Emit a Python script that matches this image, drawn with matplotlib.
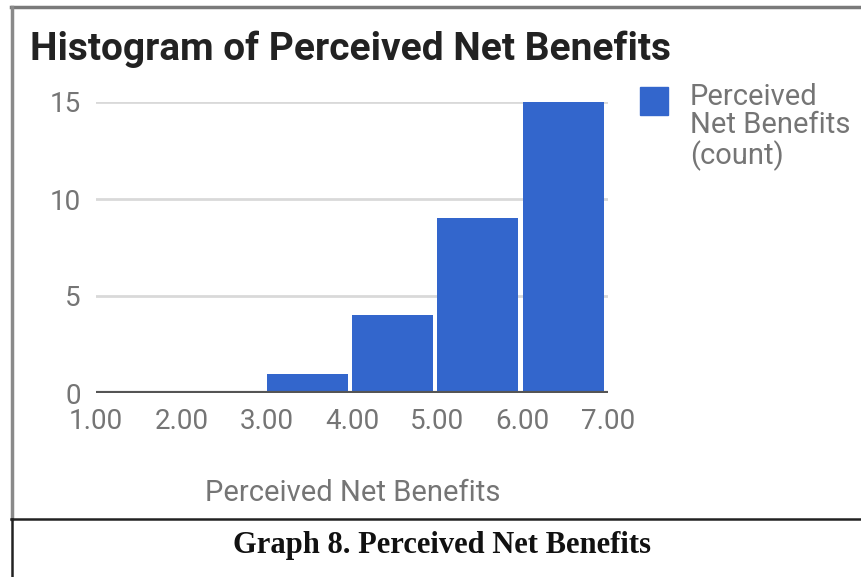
import matplotlib
matplotlib.use("Agg")
import matplotlib.pyplot as plt
from matplotlib.lines import Line2D

# Histogram bins of perceived net benefit scores and their counts
bin_edges = [1.0, 2.0, 3.0, 4.0, 5.0, 6.0, 7.0]
counts = [0, 0, 1, 4, 9, 15]
x_tick_labels = ["1.00", "2.00", "3.00", "4.00", "5.00", "6.00", "7.00"]
y_ticks = [0, 5, 10, 15]

title = "Histogram of Perceived Net Benefits"
x_label = "Perceived Net Benefits"
legend_label = "Perceived\nNet Benefits\n(count)"
caption = "Graph 8. Perceived Net Benefits"

BAR_COLOR = "#3366CC"
TEXT_GRAY = "#757575"

W, H = 861, 577
fig = plt.figure(figsize=(W / 100, H / 100), dpi=100)
fig.patch.set_facecolor("white")


def fx(px):
    return px / W


def fy(py):
    return 1 - py / H


# Plot area
ax = fig.add_axes([fx(96), fy(393), fx(608) - fx(96), fy(102) - fy(393)])
ax.set_xlim(bin_edges[0], bin_edges[-1])
ax.set_ylim(0, 15)

lefts = bin_edges[:-1]
ax.bar(lefts, counts, width=0.95, align="edge", color=BAR_COLOR,
       edgecolor="none", zorder=3)

for yv in y_ticks[1:]:
    ax.axhline(yv, color="#d9d9d9", lw=2, zorder=1)
ax.axhline(0, color="#555555", lw=3, zorder=4)

for s in ax.spines.values():
    s.set_visible(False)
ax.set_xticks(bin_edges)
ax.set_xticklabels(x_tick_labels)
ax.set_yticks(y_ticks)
ax.set_yticklabels([str(v) for v in y_ticks])
ax.tick_params(length=0, labelsize=20, labelcolor=TEXT_GRAY)
ax.tick_params(axis="x", pad=11)
ax.tick_params(axis="y", pad=11)
for lbl in ax.get_xticklabels() + ax.get_yticklabels():
    lbl.set_fontfamily("Roboto")
ax.set_facecolor("none")

# Title and axis label
fig.text(fx(30), fy(49), title, fontsize=28, fontweight="bold",
         family="Roboto", color="#222222", va="center", ha="left")
fig.text(fx(353), fy(493), x_label, fontsize=21, family="Roboto",
         color=TEXT_GRAY, va="center", ha="center")

# Legend
fig.patches.append(plt.Rectangle((fx(640), fy(115)), fx(28), fy(87) - fy(115),
                                 transform=fig.transFigure, color=BAR_COLOR,
                                 figure=fig))
fig.text(fx(690), fy(83), legend_label, fontsize=21, family="Roboto",
         color=TEXT_GRAY, va="top", ha="left", linespacing=1.02)

# Caption
fig.text(fx(442), fy(545), caption, fontsize=22, fontweight="bold",
         family="Liberation Serif", color="#111111", va="center", ha="center")

# Frame lines
fig.lines.append(Line2D([fx(11), 1], [fy(7), fy(7)], transform=fig.transFigure,
                        color="#7a7a7a", lw=2.5))
fig.lines.append(Line2D([fx(12), fx(12)], [fy(7), fy(519)],
                        transform=fig.transFigure, color="#8a8a8a", lw=2.5))
fig.lines.append(Line2D([fx(12), fx(12)], [fy(519), 0],
                        transform=fig.transFigure, color="#222222", lw=1.8))
fig.lines.append(Line2D([fx(11), 1], [fy(519), fy(519)],
                        transform=fig.transFigure, color="#222222", lw=1.8))

fig.savefig("out.png", dpi=100)
